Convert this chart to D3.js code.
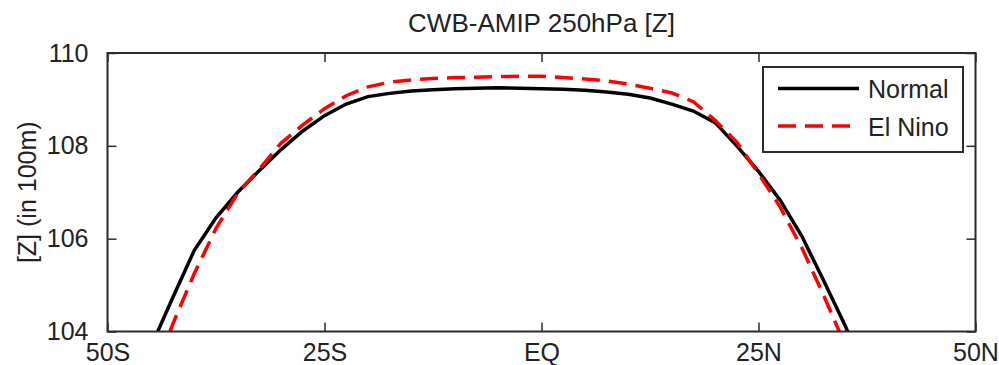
<!DOCTYPE html>
<html>
<head>
<meta charset="utf-8">
<script src="https://cdn.jsdelivr.net/npm/d3@7"></script>
<style>
  html, body { margin: 0; padding: 0; background: #fff; }
  svg { display: block; font-family: "Liberation Sans", Arial, sans-serif; }
</style>
</head>
<body>
<div id="chart"></div>
<script>
// --- Data ---
const lats = [-45, -42.5, -40, -37.5, -35, -32.5, -30, -27.5, -25, -22.5, -20, -17.5,
  -15, -12.5, -10, -7.5, -5, -2.5, 0, 2.5, 5, 7.5, 10, 12.5, 15, 17.5, 20, 22.5,
  25, 27.5, 30, 32.5, 35, 37.5];
const normal = [103.67, 104.72, 105.75, 106.45, 107.0, 107.47, 107.92, 108.32, 108.65,
  108.9, 109.06, 109.13, 109.18, 109.21, 109.23, 109.24, 109.25, 109.24, 109.23, 109.22,
  109.2, 109.16, 109.11, 109.03, 108.9, 108.75, 108.5, 108.0, 107.45, 106.83, 106.05,
  105.1, 104.12, 103.0];
const elNino = [102.9, 104.15, 105.25, 106.22, 106.98, 107.5, 108.06, 108.45, 108.8,
  109.08, 109.27, 109.37, 109.42, 109.45, 109.47, 109.48, 109.49, 109.5, 109.5, 109.47,
  109.44, 109.4, 109.33, 109.24, 109.14, 108.95, 108.55, 108.08, 107.4, 106.68, 105.8,
  104.78, 103.7, 102.6];
const xTicks = [-50, -25, 0, 25, 50];
const xTickLabels = ["50S", "25S", "EQ", "25N", "50N"];
const yTicks = [104, 106, 108, 110];
const seriesNames = ["Normal", "El Nino"];

// --- Dimensions ---
const width = 999, height = 365;
const margin = { top: 53, right: 23.5, bottom: 33.5, left: 107.5 };
const innerWidth = width - margin.left - margin.right;
const innerHeight = height - margin.top - margin.bottom;
const axisColor = "#2b2b2b";
const fontSize = 25;

const svg = d3.select("#chart").append("svg")
  .attr("width", width).attr("height", height);

const g = svg.append("g")
  .attr("transform", `translate(${margin.left},${margin.top})`);

const x = d3.scaleLinear().domain([-50, 50]).range([0, innerWidth]);
const y = d3.scaleLinear().domain([104, 110]).range([innerHeight, 0]);

// clip lines to the axes box (matlab style)
svg.append("defs").append("clipPath").attr("id", "clip")
  .append("rect").attr("width", innerWidth).attr("height", innerHeight);

const line = d3.line().x(d => x(d[0])).y(d => y(d[1]));

const series = [
  { name: seriesNames[0], values: normal, color: "#000", dash: null },
  { name: seriesNames[1], values: elNino, color: "#ff0000", dash: "18,9" }
];

const plot = g.append("g").attr("clip-path", "url(#clip)");
series.forEach(s => {
  plot.append("path")
    .datum(lats.map((lat, i) => [lat, s.values[i]]))
    .attr("d", line)
    .attr("fill", "none")
    .attr("stroke", s.color)
    .attr("stroke-width", 3.5)
    .attr("stroke-dasharray", s.dash);
});

// --- Axes: ticks inward on all four sides ---
const tickLen = 9;
const axisBottom = d3.axisBottom(x).tickValues(xTicks)
  .tickFormat((d, i) => xTickLabels[i]).tickSizeInner(-tickLen).tickSizeOuter(0).tickPadding(12);
const axisTop = d3.axisTop(x).tickValues(xTicks).tickSizeInner(-tickLen).tickSizeOuter(0);
const axisLeft = d3.axisLeft(y).tickValues(yTicks).tickFormat(d3.format("d"))
  .tickSizeInner(-tickLen).tickSizeOuter(0).tickPadding(19);
const axisRight = d3.axisRight(y).tickValues(yTicks).tickSizeInner(-tickLen).tickSizeOuter(0);

function styleAxis(sel, labels) {
  sel.select(".domain").remove();
  sel.selectAll("line").attr("stroke", axisColor).attr("stroke-width", 1.5);
  if (!labels) { sel.selectAll("text").remove(); return; }
  sel.selectAll("text").attr("fill", "#222").style("font-size", fontSize + "px")
    .style("font-family", '"Liberation Sans", Arial, sans-serif');
}

g.append("g").attr("transform", `translate(0,${innerHeight})`).call(axisBottom).call(styleAxis, true);
g.append("g").call(axisTop).call(styleAxis, false);
g.append("g").call(axisLeft).call(styleAxis, true);
g.append("g").attr("transform", `translate(${innerWidth},0)`).call(axisRight).call(styleAxis, false);

// box
g.append("rect")
  .attr("width", innerWidth).attr("height", innerHeight)
  .attr("fill", "none").attr("stroke", axisColor).attr("stroke-width", 2);

// --- Legend ---
const legend = g.append("g").attr("transform", `translate(${763 - margin.left},${67 - margin.top})`);
legend.append("rect")
  .attr("width", 200).attr("height", 85)
  .attr("fill", "#fff").attr("stroke", axisColor).attr("stroke-width", 2);
series.forEach((s, i) => {
  const ly = 21.5 + i * 37.5;
  legend.append("line")
    .attr("x1", 15).attr("x2", 96).attr("y1", ly).attr("y2", ly)
    .attr("stroke", s.color).attr("stroke-width", 3.5)
    .attr("stroke-dasharray", s.dash);
  legend.append("text")
    .attr("x", 105).attr("y", ly + 9.5)
    .attr("fill", "#222")
    .style("font-size", fontSize + "px")
    .text(s.name);
});

// --- Title + y label ---
svg.append("text")
  .attr("x", margin.left + innerWidth / 2).attr("y", 32)
  .attr("text-anchor", "middle")
  .attr("fill", "#222")
  .style("font-size", "26px")
  .text("CWB-AMIP 250hPa [Z]");

svg.append("text")
  .attr("transform", `translate(36,${margin.top + innerHeight / 2}) rotate(-90)`)
  .attr("text-anchor", "middle")
  .attr("fill", "#222")
  .style("font-size", fontSize + "px")
  .text("[Z] (in 100m)");
</script>
</body>
</html>
